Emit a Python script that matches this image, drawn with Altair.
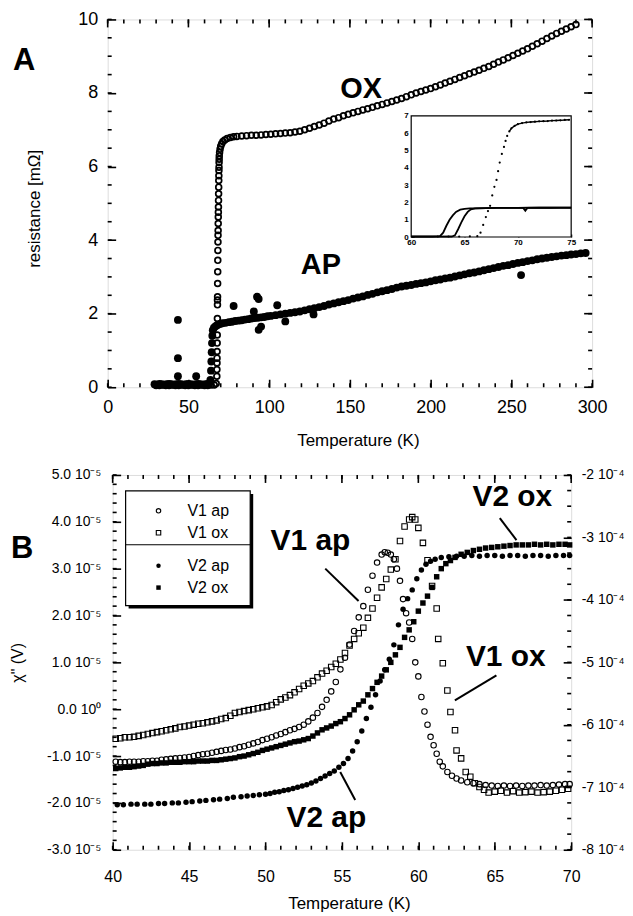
import altair as alt
import pandas as pd

FONT = "Liberation Sans"
TICK_W = 1.6   # px
MAJ, MIN = 8, 4  # tick lengths, px

# ---------------- geometry ----------------
WA, HA = 486, 369
WB, HB = 460, 376

# ---------------- Panel A data ----------------
A_x_major = [0, 50, 100, 150, 200, 250, 300]
A_x_minor = list(range(0, 301, 10))
A_y_major = [0, 2, 4, 6, 8, 10]
A_y_minor = [i * 0.5 for i in range(21)]

ox_pts = [
    (30, 0.05), (32, 0.05), (34, 0.06), (36, 0.05), (38, 0.05), (40, 0.06), (42, 0.05), (44, 0.05),
    (46, 0.06), (48, 0.05), (50, 0.05), (52, 0.06), (54, 0.05), (56, 0.05), (58, 0.06), (60, 0.05),
    (62, 0.05), (64, 0.06), (66, 0.06), (67.2, 0.10),
    (67.6, 0.30), (67.65, 0.48), (67.7, 0.66), (67.72, 0.79), (67.75, 0.97), (67.8, 1.20), (67.85, 1.42),
    (67.9, 1.69), (67.95, 1.87), (68.0, 2.24), (68.0, 2.37), (68.05, 2.46), (68.1, 2.82), (68.15, 3.14),
    (68.2, 3.45), (68.25, 3.72), (68.3, 3.95), (68.35, 4.13), (68.4, 4.26), (68.45, 4.45), (68.5, 4.63),
    (68.55, 4.76), (68.6, 4.90), (68.65, 5.08), (68.7, 5.26), (68.75, 5.44), (68.8, 5.62), (68.85, 5.75),
    (68.9, 5.89), (68.95, 5.98), (69.0, 6.11), (69.05, 6.20), (69.1, 6.29),
    (69.3, 6.38), (69.6, 6.47), (70.0, 6.55), (70.6, 6.62), (71.4, 6.68), (72.5, 6.72), (74, 6.76),
    (76, 6.79), (78, 6.81), (80, 6.82), (83, 6.83), (86, 6.84), (89, 6.85), (92, 6.85), (95, 6.86),
    (98, 6.87), (101, 6.88), (104, 6.89), (107, 6.90), (110, 6.91), (113, 6.92), (116, 6.94), (119, 6.96),
    (122, 7.00), (125, 7.04), (128, 7.09), (131, 7.13), (134, 7.18), (137, 7.24), (140, 7.29), (143, 7.33),
    (146, 7.38), (149, 7.42), (152, 7.46), (155, 7.50), (158, 7.54), (161, 7.57), (164, 7.61), (167, 7.65),
    (170, 7.69), (173, 7.73), (176, 7.77), (179, 7.81), (182, 7.85), (185, 7.90), (188, 7.95), (191, 8.00),
    (194, 8.04), (197, 8.08), (200, 8.12), (203, 8.17), (206, 8.22), (209, 8.27), (212, 8.32), (215, 8.37),
    (218, 8.42), (221, 8.47), (224, 8.52), (227, 8.57), (230, 8.62), (233, 8.67), (236, 8.72), (239, 8.78),
    (242, 8.84), (245, 8.90), (248, 8.96), (251, 9.02), (254, 9.08), (257, 9.14), (260, 9.20), (263, 9.27),
    (266, 9.34), (269, 9.41), (272, 9.48), (275, 9.55), (278, 9.62), (281, 9.68), (284, 9.74), (287, 9.80),
    (290, 9.86),
]

ap_pts = [
    (29, 0.08), (30.5, 0.07), (32, 0.09), (33.5, 0.08), (35, 0.07), (36.5, 0.08), (38, 0.09), (39.5, 0.08),
    (41, 0.07), (42.5, 0.08), (44, 0.09), (45.5, 0.08), (47, 0.07), (48.5, 0.08), (50, 0.09), (51.5, 0.08),
    (53, 0.07), (54.5, 0.08), (56, 0.09), (57.5, 0.08), (59, 0.07), (60.5, 0.08), (62, 0.09), (63, 0.10),
    (43.5, 1.83), (43.5, 0.79), (43.5, 0.30), (54.8, 0.30),
    (63.6, 0.20), (64.0, 0.45), (64.2, 0.70), (64.4, 0.95), (64.6, 1.20), (64.8, 1.40), (65.1, 1.55),
    (65.8, 1.62), (66.8, 1.66), (68, 1.69), (69.5, 1.72), (71, 1.74), (73, 1.75), (75, 1.77), (77, 1.78),
    (79, 1.80), (81, 1.81), (83, 1.82), (85, 1.84), (87, 1.85), (89, 1.87), (91, 1.88), (93, 1.89),
    (95, 1.90), (97, 1.91), (99, 1.93), (101, 1.94), (104, 1.96), (107, 1.98), (110, 2.00), (113, 2.02),
    (116, 2.04), (119, 2.06), (122, 2.09), (125, 2.12), (128, 2.15), (131, 2.18), (134, 2.21), (137, 2.25),
    (140, 2.28), (143, 2.31), (146, 2.34), (149, 2.37), (152, 2.41), (155, 2.44), (158, 2.47), (161, 2.51),
    (164, 2.54), (167, 2.58), (170, 2.61), (173, 2.64), (176, 2.67), (179, 2.71), (182, 2.74), (185, 2.76),
    (188, 2.78), (191, 2.81), (194, 2.83), (197, 2.85), (200, 2.88), (203, 2.91), (206, 2.93), (209, 2.96),
    (212, 2.98), (215, 3.01), (218, 3.04), (221, 3.07), (224, 3.10), (227, 3.12), (230, 3.15), (233, 3.18),
    (236, 3.21), (239, 3.24), (242, 3.27), (245, 3.30), (248, 3.32), (251, 3.35), (254, 3.38), (257, 3.40),
    (260, 3.43), (263, 3.45), (266, 3.48), (269, 3.50), (272, 3.52), (275, 3.54), (278, 3.56), (281, 3.58),
    (284, 3.59), (287, 3.61), (290, 3.62), (293, 3.64), (296, 3.65),
    (78, 2.21), (90.5, 2.06), (92.5, 2.46), (93.5, 2.40), (93.5, 1.56), (95, 1.65), (105, 2.23),
    (110, 1.79), (127.5, 1.98), (256, 3.05),
]

A_ann_text = ["OX", "AP"]
A_ann_T = [157, 132]
A_ann_R = [8.12, 3.31]

# inset (panel A)
inset_x_dom = [60, 75]
inset_y_dom = [0, 7]
inset_x_labels = [60, 65, 70, 75]
inset_y_labels = [0, 1, 2, 3, 4, 5, 6, 7]
inset_ox_pts = [
    (62.5, 0.03), (63.5, 0.03), (64.5, 0.03), (65.5, 0.04), (66.2, 0.05),
    (66.5, 0.25), (66.75, 0.70), (67.0, 1.15), (67.2, 1.50), (67.4, 1.80), (67.6, 2.40), (67.8, 2.90),
    (68.0, 3.30), (68.15, 3.80), (68.3, 4.30), (68.5, 4.80), (68.7, 5.20), (68.85, 5.55), (69.0, 5.84),
    (69.2, 6.10), (69.4, 6.28), (69.7, 6.42), (70.0, 6.52), (70.4, 6.58), (70.8, 6.62), (71.2, 6.64),
    (71.6, 6.66), (72.0, 6.68), (72.4, 6.69), (72.8, 6.70), (73.2, 6.72), (73.6, 6.73), (74.0, 6.74),
    (74.4, 6.76), (74.8, 6.77),
]
inset_ap1_pts = [
    (60, 0.03), (61, 0.03), (62, 0.03), (62.7, 0.05), (63.0, 0.25), (63.3, 0.65), (63.6, 1.00),
    (63.9, 1.25), (64.2, 1.45), (64.6, 1.58), (65.0, 1.63), (65.5, 1.65), (66, 1.66), (67, 1.67),
    (68, 1.68), (69, 1.68), (70, 1.68), (71, 1.69), (72, 1.69), (73, 1.69), (74, 1.69), (75, 1.69),
]
inset_ap2_pts = [
    (60, 0.02), (62, 0.02), (63.8, 0.03), (64.1, 0.10), (64.4, 0.45), (64.7, 0.85), (65.0, 1.20),
    (65.3, 1.45), (65.6, 1.60), (66.0, 1.66), (67, 1.67), (68, 1.68), (69, 1.68), (70, 1.68),
    (70.5, 1.68), (70.7, 1.52), (70.9, 1.68), (72, 1.69), (73, 1.69), (74, 1.70), (75, 1.70),
]

# ---------------- Panel B data ----------------
B_x_major = [40, 45, 50, 55, 60, 65, 70]
B_x_minor = list(range(40, 71))
B_yl_major = [-3, -2, -1, 0, 1, 2, 3, 4, 5]            # units of 1e-5
B_yl_minor = [round(-3 + 0.2 * i, 2) for i in range(41)]
B_yr_major = [-8, -7, -6, -5, -4, -3, -2]               # units of 1e-4
B_yr_minor = [round(-8 + 0.25 * i, 2) for i in range(25)]

v1ap_pts = [
    (40.2, -1.12), (40.5, -1.13), (40.8, -1.13), (41.1, -1.12), (41.4, -1.12), (41.7, -1.12), (42.0, -1.11),
    (42.3, -1.11), (42.6, -1.10), (42.9, -1.10), (43.2, -1.08), (43.5, -1.07), (43.8, -1.06), (44.1, -1.05),
    (44.4, -1.04), (44.7, -1.03), (45.0, -1.02), (45.3, -1.00), (45.6, -0.98), (45.9, -0.96), (46.2, -0.95),
    (46.5, -0.93), (46.8, -0.91), (47.1, -0.89), (47.4, -0.87), (47.7, -0.86), (48.0, -0.84), (48.3, -0.81),
    (48.6, -0.79), (48.9, -0.76), (49.2, -0.73), (49.5, -0.70), (49.8, -0.66), (50.1, -0.63), (50.4, -0.60),
    (50.7, -0.56), (51.0, -0.53), (51.3, -0.49), (51.6, -0.45), (51.9, -0.42), (52.2, -0.38), (52.5, -0.33),
    (52.8, -0.26), (53.1, -0.18), (53.4, -0.08), (53.7, 0.05), (54.0, 0.20), (54.3, 0.38), (54.6, 0.58),
    (54.9, 0.85), (55.2, 1.10), (55.5, 1.38), (55.8, 1.67), (56.1, 1.96), (56.4, 2.20), (56.7, 2.55),
    (57.0, 2.85), (57.3, 3.13), (57.6, 3.30), (57.8, 3.35), (58.0, 3.34), (58.2, 3.30), (58.4, 3.20),
    (58.6, 3.00), (58.8, 2.74), (59.0, 2.35), (59.2, 2.05), (59.4, 1.85), (59.6, 1.50), (59.8, 1.00),
    (60.0, 0.70), (60.2, 0.26), (60.4, -0.05), (60.6, -0.33), (60.8, -0.59), (61.0, -0.77), (61.2, -0.95),
    (61.4, -1.12), (61.6, -1.22), (61.9, -1.34), (62.2, -1.42), (62.5, -1.48), (62.8, -1.52), (63.2, -1.56),
    (63.6, -1.58), (64.0, -1.60), (64.4, -1.62), (64.8, -1.63), (65.2, -1.64), (65.6, -1.63), (66.0, -1.64),
    (66.4, -1.63), (66.8, -1.64), (67.2, -1.63), (67.6, -1.63), (68.0, -1.62), (68.4, -1.63), (68.8, -1.62),
    (69.2, -1.61), (69.6, -1.60), (69.9, -1.60),
]

v1ox_pts = [
    (40.2, -0.63), (40.5, -0.62), (40.8, -0.60), (41.1, -0.60), (41.4, -0.59), (41.7, -0.57), (42.0, -0.55),
    (42.3, -0.53), (42.6, -0.51), (42.9, -0.49), (43.2, -0.47), (43.5, -0.45), (43.8, -0.43), (44.1, -0.41),
    (44.4, -0.38), (44.7, -0.37), (45.0, -0.35), (45.3, -0.33), (45.6, -0.31), (45.9, -0.30), (46.2, -0.28),
    (46.5, -0.26), (46.8, -0.24), (47.1, -0.21), (47.4, -0.19), (47.7, -0.14), (48.0, -0.08), (48.3, -0.06),
    (48.6, -0.04), (48.9, -0.02), (49.2, 0.00), (49.5, 0.02), (49.8, 0.04), (50.1, 0.06), (50.4, 0.09),
    (50.7, 0.15), (51.0, 0.21), (51.3, 0.25), (51.6, 0.30), (51.9, 0.36), (52.2, 0.43), (52.5, 0.50),
    (52.8, 0.55), (53.1, 0.60), (53.4, 0.68), (53.7, 0.76), (54.0, 0.82), (54.3, 0.90), (54.6, 0.97),
    (54.9, 1.06), (55.2, 1.20), (55.5, 1.36), (55.8, 1.50), (56.1, 1.62), (56.4, 1.74), (56.7, 1.95),
    (57.0, 2.15), (57.3, 2.38), (57.6, 2.60), (57.9, 2.78), (58.2, 2.98), (58.5, 3.20), (58.8, 3.59),
    (59.1, 3.90), (59.4, 4.05), (59.6, 4.10), (59.8, 4.05), (60.0, 3.87), (60.3, 3.55), (60.6, 3.18),
    (60.9, 2.63), (61.2, 2.15), (61.3, 1.50), (61.6, 0.98), (61.9, 0.40), (62.1, -0.06), (62.4, -0.45),
    (62.5, -0.88), (62.8, -1.05), (63.1, -1.34), (63.4, -1.44), (63.7, -1.58), (64.0, -1.66), (64.3, -1.72),
    (64.6, -1.78), (65.0, -1.76), (65.4, -1.74), (65.8, -1.78), (66.2, -1.75), (66.6, -1.78), (67.0, -1.77),
    (67.4, -1.76), (67.8, -1.78), (68.2, -1.77), (68.6, -1.76), (69.0, -1.74), (69.4, -1.72), (69.8, -1.70),
]

v2ap_pts = [
    (40.3, -7.28), (40.7, -7.28), (41.2, -7.27), (41.6, -7.27), (42.1, -7.27), (42.5, -7.27), (43.0, -7.26),
    (43.4, -7.26), (43.9, -7.25), (44.3, -7.25), (44.8, -7.24), (45.2, -7.23), (45.7, -7.22), (46.1, -7.21),
    (46.6, -7.20), (47.0, -7.19), (47.5, -7.18), (47.9, -7.16), (48.4, -7.15), (48.8, -7.14), (49.2, -7.13),
    (49.6, -7.12), (50.0, -7.11), (50.3, -7.10), (50.6, -7.08), (50.9, -7.07), (51.2, -7.05), (51.5, -7.04),
    (51.8, -7.02), (52.1, -7.00), (52.4, -6.98), (52.7, -6.96), (53.0, -6.93), (53.3, -6.90), (53.6, -6.86),
    (53.9, -6.82), (54.2, -6.78), (54.5, -6.74), (54.8, -6.68), (55.1, -6.62), (55.4, -6.54), (55.7, -6.42),
    (56.0, -6.27), (56.3, -6.10), (56.6, -5.90), (56.9, -5.72), (57.2, -5.52), (57.5, -5.30), (57.8, -5.12),
    (58.1, -4.95), (58.4, -4.72), (58.7, -4.40), (59.0, -4.15), (59.3, -3.98), (59.6, -3.84), (59.9, -3.66),
    (60.2, -3.52), (60.5, -3.43), (60.8, -3.38), (61.1, -3.35), (61.5, -3.32), (62.0, -3.31), (62.5, -3.30),
    (63.0, -3.30), (63.5, -3.29), (64.0, -3.30), (64.5, -3.29), (65.0, -3.29), (65.5, -3.30), (66.0, -3.29),
    (66.5, -3.29), (67.0, -3.30), (67.5, -3.29), (68.0, -3.29), (68.5, -3.30), (69.0, -3.29), (69.5, -3.29),
    (69.9, -3.29),
]

v2ox_pts = [
    (40.2, -6.70), (40.5, -6.69), (40.8, -6.68), (41.1, -6.68), (41.4, -6.67), (41.7, -6.66), (42.0, -6.65),
    (42.3, -6.63), (42.6, -6.62), (42.9, -6.62), (43.2, -6.61), (43.5, -6.61), (43.8, -6.60), (44.1, -6.60),
    (44.4, -6.60), (44.7, -6.59), (45.0, -6.59), (45.3, -6.59), (45.6, -6.58), (45.9, -6.58), (46.2, -6.58),
    (46.5, -6.57), (46.8, -6.57), (47.1, -6.56), (47.4, -6.55), (47.7, -6.54), (48.0, -6.53), (48.3, -6.51),
    (48.6, -6.50), (48.9, -6.48), (49.2, -6.46), (49.5, -6.44), (49.8, -6.41), (50.1, -6.39), (50.4, -6.37),
    (50.7, -6.35), (51.0, -6.33), (51.3, -6.31), (51.6, -6.29), (51.9, -6.27), (52.2, -6.26), (52.5, -6.24),
    (52.8, -6.22), (53.1, -6.18), (53.4, -6.13), (53.7, -6.08), (54.0, -6.05), (54.3, -6.02), (54.6, -5.98),
    (54.9, -5.95), (55.2, -5.90), (55.5, -5.84), (55.8, -5.76), (56.1, -5.68), (56.4, -5.62), (56.7, -5.52),
    (57.0, -5.42), (57.3, -5.32), (57.6, -5.22), (57.9, -5.12), (58.2, -5.00), (58.5, -4.88), (58.8, -4.76),
    (59.1, -4.60), (59.4, -4.48), (59.7, -4.35), (60.0, -4.18), (60.3, -4.05), (60.6, -3.94), (60.9, -3.80),
    (61.2, -3.63), (61.5, -3.50), (61.8, -3.42), (62.1, -3.37), (62.4, -3.32), (62.8, -3.27), (63.2, -3.24),
    (63.6, -3.21), (64.0, -3.19), (64.4, -3.17), (64.8, -3.16), (65.2, -3.15), (65.6, -3.14), (66.0, -3.13),
    (66.4, -3.12), (66.8, -3.12), (67.2, -3.12), (67.6, -3.11), (68.0, -3.12), (68.4, -3.11), (68.8, -3.12),
    (69.2, -3.11), (69.6, -3.11), (69.9, -3.12),
]

B_ann_text = ["V1 ap", "V2 ox", "V1 ox", "V2 ap"]
B_ann_T = [52.94, 66.15, 65.72, 53.98]
B_ann_V = [3.59, 4.53, 1.11, -2.33]
B_line_T1 = [53.91, 65.33, 65.11, 54.89]
B_line_V1 = [3.00, 4.08, 0.72, -1.34]
B_line_T2 = [56.09, 66.42, 62.39, 55.87]
B_line_V2 = [2.31, 3.61, 0.19, -1.94]

B_legend_labels = ["V1 ap", "V1 ox", "V2 ap", "V2 ox"]


# ---------------- helpers ----------------
def pts_df(pts, a="T", b="V"):
    return pd.DataFrame(pts, columns=[a, b])


def hticks(vals, xs, xa, ys, ya, y_at, y_len, half_w):
    """thin rectangles on a horizontal edge (all positions in data units)"""
    df = pd.DataFrame({
        "tx0": [v - half_w for v in vals], "tx1": [v + half_w for v in vals],
        "ty0": [y_at] * len(vals), "ty1": [y_at + y_len] * len(vals)})
    return alt.Chart(df).mark_rect(color="black", opacity=1).encode(
        x=alt.X("tx0:Q", scale=xs, axis=xa), x2="tx1:Q",
        y=alt.Y("ty0:Q", scale=ys, axis=ya), y2="ty1:Q")


def vticks(vals, xs, xa, ys, ya, x_at, x_len, half_h):
    """thin rectangles on a vertical edge (all positions in data units)"""
    df = pd.DataFrame({
        "tx0": [x_at] * len(vals), "tx1": [x_at + x_len] * len(vals),
        "ty0": [v - half_h for v in vals], "ty1": [v + half_h for v in vals]})
    return alt.Chart(df).mark_rect(color="black", opacity=1).encode(
        x=alt.X("tx0:Q", scale=xs, axis=xa), x2="tx1:Q",
        y=alt.Y("ty0:Q", scale=ys, axis=ya), y2="ty1:Q")


def label_text(txt, x, y, size, weight="bold", align="left"):
    return alt.Chart(pd.DataFrame({"t": [txt]})).mark_text(
        font=FONT, fontSize=size, fontWeight=weight, align=align, baseline="middle", color="black"
    ).encode(text="t:N", x=alt.value(x), y=alt.value(y))


# axis tick styling: inward major ticks, drawn by the axis itself (axis moved inside by its tick length)
TICKS = dict(ticks=True, tickSize=MAJ, tickWidth=TICK_W, tickColor="black", offset=-MAJ)

# ---------------- Panel A ----------------
xA = alt.Scale(domain=[0, 300], nice=False, zero=False)
yA = alt.Scale(domain=[0, 10], nice=False, zero=False)
axA_x = alt.Axis(values=A_x_major, domain=False, grid=False, **TICKS,
                 labelFont=FONT, labelFontSize=18, labelPadding=11, labelColor="black",
                 labelFlush=False, labelOverlap=False, format="d",
                 title="Temperature (K)", titleFont=FONT, titleFontSize=17, titleFontWeight="normal",
                 titleColor="black", titleX=WA / 2 + 8, titleY=53 + MAJ, titleBaseline="middle")
axA_y = alt.Axis(values=A_y_major, domain=False, grid=False, **TICKS,
                 labelFont=FONT, labelFontSize=18, labelPadding=10, labelColor="black",
                 labelOverlap=False, format="d",
                 title="resistance [mΩ]", titleFont=FONT, titleFontSize=17, titleFontWeight="normal",
                 titleColor="black", titleX=-73 - MAJ, titleY=HA / 2 + 5, titleBaseline="middle")

ox_layer = alt.Chart(pts_df(ox_pts, "T", "R")).mark_point(
    shape="circle", filled=False, size=34, strokeWidth=1.7, color="black", opacity=1
).encode(x=alt.X("T:Q", scale=xA, axis=axA_x), y=alt.Y("R:Q", scale=yA, axis=axA_y))

ap_layer = alt.Chart(pts_df(ap_pts, "T", "R")).mark_circle(
    size=62, color="black", opacity=1
).encode(x=alt.X("T:Q", scale=xA, axis=axA_x), y=alt.Y("R:Q", scale=yA, axis=axA_y))

A_ann = alt.Chart(pd.DataFrame({"t": A_ann_text, "T": A_ann_T, "R": A_ann_R})).mark_text(
    font=FONT, fontSize=29, fontWeight="bold", color="black", align="center", baseline="middle"
).encode(x=alt.X("T:Q", scale=xA, axis=axA_x), y=alt.Y("R:Q", scale=yA, axis=axA_y), text="t:N")

a_ty = 10 / HA
a_tx = 300 / WA
hwA_x = TICK_W / 2 * a_tx
hwA_y = TICK_W / 2 * a_ty
A_main = alt.layer(
    ox_layer, ap_layer, A_ann,
    hticks(A_x_minor, xA, axA_x, yA, axA_y, 0, MIN * a_ty, hwA_x),
    hticks(A_x_major, xA, axA_x, yA, axA_y, 10, -MAJ * a_ty, hwA_x),
    hticks(A_x_minor, xA, axA_x, yA, axA_y, 10, -MIN * a_ty, hwA_x),
    vticks(A_y_minor, xA, axA_x, yA, axA_y, 0, MIN * a_tx, hwA_y),
    vticks(A_y_major, xA, axA_x, yA, axA_y, 300, -MAJ * a_tx, hwA_y),
    vticks(A_y_minor, xA, axA_x, yA, axA_y, 300, -MIN * a_tx, hwA_y),
    label_text("A", -95, 42, 31),
)

# inset
IX0, IX1 = 304.5, 465.0
IY0, IY1 = 218.3, 96.7
xI = alt.Scale(domain=inset_x_dom, range=[IX0, IX1], nice=False, zero=False)
yI = alt.Scale(domain=inset_y_dom, range=[IY0, IY1], nice=False, zero=False)
axI_x = alt.Axis(orient="bottom", offset=-(HA - IY0) - 3, values=inset_x_labels,
                 ticks=True, tickSize=3, tickWidth=1.2, tickColor="black",
                 domain=False, grid=False, labelFont=FONT, labelFontSize=8, labelFontWeight="bold",
                 labelPadding=2, labelColor="black", labelFlush=False, labelOverlap=False, format="d",
                 title=None)
axI_y = alt.Axis(orient="left", offset=-IX0 - 3, values=inset_y_labels,
                 ticks=True, tickSize=3, tickWidth=1.2, tickColor="black",
                 domain=False, grid=False, labelFont=FONT, labelFontSize=8, labelFontWeight="bold",
                 labelPadding=3, labelColor="black", labelOverlap=False, format="d", title=None)

inset_frame = alt.Chart(pd.DataFrame({"x0": [inset_x_dom[0]], "x1": [inset_x_dom[1]],
                                      "y0": [inset_y_dom[0]], "y1": [inset_y_dom[1]]})).mark_rect(
    fill="white", stroke="black", strokeWidth=1.2
).encode(x=alt.X("x0:Q", scale=xI, axis=axI_x), x2="x1:Q",
         y=alt.Y("y0:Q", scale=yI, axis=axI_y), y2="y1:Q")

inset_ox = alt.Chart(pts_df(inset_ox_pts, "T", "R")).mark_circle(size=5, color="black", opacity=1).encode(
    x=alt.X("T:Q", scale=xI, axis=axI_x), y=alt.Y("R:Q", scale=yI, axis=axI_y))
inset_ox_line = alt.Chart(pts_df(inset_ox_pts, "T", "R")).transform_filter("datum.T >= 69.2").mark_line(
    color="black", strokeWidth=1.4).encode(
    x=alt.X("T:Q", scale=xI, axis=axI_x), y=alt.Y("R:Q", scale=yI, axis=axI_y))
inset_ap1 = alt.Chart(pts_df(inset_ap1_pts, "T", "R")).mark_line(color="black", strokeWidth=1.8).encode(
    x=alt.X("T:Q", scale=xI, axis=axI_x), y=alt.Y("R:Q", scale=yI, axis=axI_y))
inset_ap2 = alt.Chart(pts_df(inset_ap2_pts, "T", "R")).mark_line(color="black", strokeWidth=1.8).encode(
    x=alt.X("T:Q", scale=xI, axis=axI_x), y=alt.Y("R:Q", scale=yI, axis=axI_y))

A_inset = alt.layer(inset_frame, inset_ox, inset_ox_line, inset_ap1, inset_ap2)

panelA = alt.layer(A_main, A_inset).resolve_scale(x="independent", y="independent").properties(
    width=WA, height=HA)

# ---------------- Panel B ----------------
xB = alt.Scale(domain=[40, 70], nice=False, zero=False)
yBL = alt.Scale(domain=[-3, 5], nice=False, zero=False)
yBR = alt.Scale(domain=[-8, -2], nice=False, zero=False)

axB_x = alt.Axis(values=B_x_major, domain=False, grid=False, **TICKS,
                 labelFont=FONT, labelFontSize=16, labelPadding=19, labelColor="black",
                 labelFlush=False, labelOverlap=False, format="d",
                 title="Temperature (K)", titleFont=FONT, titleFontSize=17, titleFontWeight="normal",
                 titleColor="black", titleX=WB / 2 + 7, titleY=54 + MAJ, titleBaseline="middle")
axB_yl = alt.Axis(values=B_yl_major, domain=False, grid=False, **TICKS,
                  labelFont=FONT, labelFontSize=14, labelPadding=12, labelColor="black",
                  labelOverlap=False,
                  labelExpr="(datum.value < 0 ? '-' : '') + format(abs(datum.value), '.1f') + ' 10' + (datum.value == 0 ? '⁰' : '⁻⁵')",
                  title='χ" (V)', titleFont=FONT, titleFontSize=16, titleFontWeight="normal",
                  titleColor="black", titleX=-95 - MAJ, titleY=HB / 2, titleBaseline="middle")
axB_yr = alt.Axis(orient="right", values=B_yr_major, domain=False, grid=False, **TICKS,
                  labelFont=FONT, labelFontSize=14, labelPadding=10, labelColor="black",
                  labelOverlap=False,
                  labelExpr="'-' + format(abs(datum.value), 'd') + ' 10⁻⁴'", title=None)


def bpoints(pts, shape, filled, yscale, yaxis):
    return alt.Chart(pts_df(pts)).mark_point(
        shape=shape, filled=filled, size=30, strokeWidth=1.1, color="black", opacity=1
    ).encode(x=alt.X("T:Q", scale=xB, axis=axB_x), y=alt.Y("V:Q", scale=yscale, axis=yaxis))


B_ann = alt.Chart(pd.DataFrame({"t": B_ann_text, "T": B_ann_T, "V": B_ann_V})).mark_text(
    font=FONT, fontSize=30, fontWeight="bold", color="black", align="center", baseline="middle"
).encode(x=alt.X("T:Q", scale=xB, axis=axB_x), y=alt.Y("V:Q", scale=yBL, axis=axB_yl), text="t:N")

B_lines = alt.Chart(pd.DataFrame({"T1": B_line_T1, "V1": B_line_V1, "T2": B_line_T2, "V2": B_line_V2})).mark_rule(
    color="black", strokeWidth=2
).encode(x=alt.X("T1:Q", scale=xB, axis=axB_x), x2="T2:Q",
         y=alt.Y("V1:Q", scale=yBL, axis=axB_yl), y2="V2:Q")

# legend (drawn box)
LX0, LX1, LY0, LY1 = 13, 138, 16, 131
dummy = pd.DataFrame({"a": [0]})
leg_shadow = alt.Chart(dummy).mark_rect(fill="black").encode(
    x=alt.value(LX0 + 3), x2=alt.value(LX1 + 3), y=alt.value(LY0 + 3), y2=alt.value(LY1 + 3))
leg_box = alt.Chart(dummy).mark_rect(fill="white", stroke="black", strokeWidth=1.2).encode(
    x=alt.value(LX0), x2=alt.value(LX1), y=alt.value(LY0), y2=alt.value(LY1))
leg_div = alt.Chart(dummy).mark_rule(color="black", strokeWidth=1.2).encode(
    x=alt.value(LX0), x2=alt.value(LX1), y=alt.value(70), y2=alt.value(70))
leg_rows = [36, 58, 91, 113]
leg_shapes = [("circle", False), ("square", False), ("circle", True), ("square", True)]
leg_layers = [leg_shadow, leg_box, leg_div]
for lab, ry, (shp, fil) in zip(B_legend_labels, leg_rows, leg_shapes):
    leg_layers.append(alt.Chart(dummy).mark_point(
        shape=shp, filled=fil, size=20, strokeWidth=1.1, color="black", opacity=1
    ).encode(x=alt.value(46), y=alt.value(ry)))
    leg_layers.append(label_text(lab, 75, ry, 16, weight="normal"))

b_tyl = 8 / HB
b_tyr = 6 / HB
b_tx = 30 / WB
hwB_x = TICK_W / 2 * b_tx
B_left = alt.layer(
    bpoints(v1ap_pts, "circle", False, yBL, axB_yl),
    bpoints(v1ox_pts, "square", False, yBL, axB_yl),
    B_lines, B_ann,
    hticks(B_x_minor, xB, axB_x, yBL, axB_yl, -3, MIN * b_tyl, hwB_x),
    hticks(B_x_major, xB, axB_x, yBL, axB_yl, 5, -MAJ * b_tyl, hwB_x),
    hticks(B_x_minor, xB, axB_x, yBL, axB_yl, 5, -MIN * b_tyl, hwB_x),
    vticks(B_yl_minor, xB, axB_x, yBL, axB_yl, 40, MIN * b_tx, TICK_W / 2 * b_tyl),
    *leg_layers,
    label_text("B", -102, 74, 31),
)

B_right = alt.layer(
    bpoints(v2ap_pts, "circle", True, yBR, axB_yr),
    bpoints(v2ox_pts, "square", True, yBR, axB_yr),
    vticks(B_yr_minor, xB, axB_x, yBR, axB_yr, 70, -MIN * b_tx, TICK_W / 2 * b_tyr),
)

panelB = alt.layer(B_left, B_right).resolve_scale(y="independent").properties(width=WB, height=HB)

spacer = alt.Chart(dummy).mark_point(opacity=0).encode(x=alt.value(0), y=alt.value(0)).properties(
    width=5, height=HB, view=alt.ViewBackground(strokeOpacity=0))

rowB = alt.hconcat(spacer, panelB, spacing=0, bounds="flush")

chart = alt.vconcat(panelA, rowB, spacing=88, bounds="flush").properties(
    padding={"left": 1, "top": 0, "right": 0, "bottom": 0}
).configure_view(stroke="black", strokeWidth=1.3).configure(background="white")

chart.save("out.html", embed_options={"renderer": "svg", "actions": False})
